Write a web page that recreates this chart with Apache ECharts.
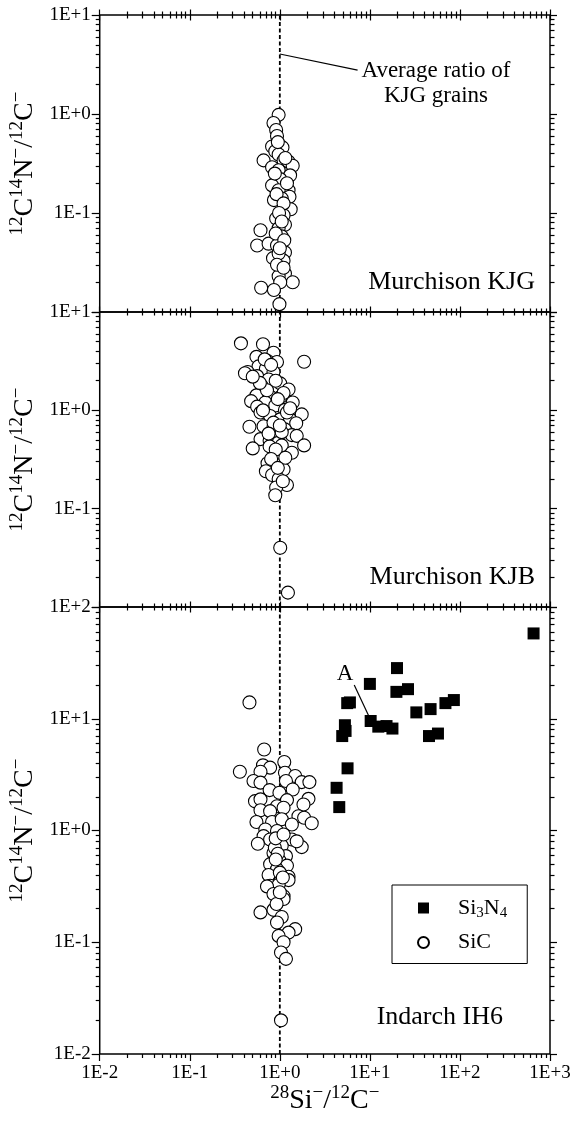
<!DOCTYPE html>
<html><head><meta charset="utf-8">
<script src="https://cdn.jsdelivr.net/npm/echarts@6/dist/echarts.min.js"></script>
<style>html,body{margin:0;padding:0;background:#fff}#c{width:582px;height:1124px}</style>
</head><body><div id="c"></div>
<script>
// ---------- data ----------
const xTicks = [0.01, 0.1, 1, 10, 100, 1000];
const xTickLabels = ['1E-2', '1E-1', '1E+0', '1E+1', '1E+2', '1E+3'];
const minorMultipliers = [2, 3, 4, 5, 6, 7, 8, 9];
const xDecades = [0.01, 0.1, 1, 10, 100];

const p12YTicks = [0.01, 0.1, 1, 10];
const p12YLabelTicks = [0.1, 1, 10];
const p12YLabels = ['1E-1', '1E+0', '1E+1'];
const p12YDecades = [0.01, 0.1, 1];
const p3YTicks = [0.01, 0.1, 1, 10, 100];
const p3YLabelTicks = [0.01, 0.1, 1, 10, 100];
const p3YLabels = ['1E-2', '1E-1', '1E+0', '1E+1', '1E+2'];
const p3YDecades = [0.01, 0.1, 1, 10];

const avgRatio = 1;

const kjgSiC = [
 [0.97,0.98],[0.85,0.81],[0.91,0.69],[0.93,0.60],[0.82,0.47],[1.07,0.46],[0.89,0.42],[0.66,0.34],
 [0.97,0.39],[1.10,0.34],[1.25,0.33],[1.39,0.30],[0.82,0.29],[0.97,0.27],[1.30,0.24],[1.01,0.22],
 [0.82,0.19],[1.25,0.17],[0.97,0.17],[1.28,0.146],[1.05,0.14],[0.86,0.135],[1.32,0.109],[1.10,0.095],
 [0.91,0.088],[1.14,0.076],[0.61,0.067],[0.97,0.070],[1.05,0.058],[0.56,0.047],[0.75,0.049],[0.93,0.047],
 [1.14,0.040],[0.84,0.035],[1.10,0.033],[0.97,0.039],[1.14,0.0245],[0.97,0.023],[1.39,0.020],[1.01,0.020],
 [0.62,0.0176],[0.86,0.0167],[0.99,0.012],
 [0.95,0.52],[1.15,0.36],[0.88,0.25],[1.2,0.20],[0.92,0.155],[1.1,0.125],[0.98,0.10],[1.05,0.082],
 [0.9,0.062],[1.12,0.053],[1.0,0.044],[0.93,0.030],[1.1,0.028]
];

const kjbSiC = [
 [0.37,4.8],[0.65,4.7],[0.85,3.85],[0.55,3.5],[0.73,3.17],[0.93,3.1],[1.86,3.12],[0.58,2.8],
 [0.70,2.65],[0.44,2.45],[0.85,2.45],[0.41,2.38],[0.56,2.23],[0.75,2.06],[1.01,1.88],[1.25,1.63],[0.63,1.77],
 [0.55,1.42],[0.78,1.38],[1.03,1.38],[0.48,1.24],[1.39,1.20],[0.69,1.20],[0.89,1.12],[0.56,1.09],
 [1.14,1.01],[1.75,0.91],[0.61,0.95],[0.78,0.875],[1.01,0.81],[1.30,0.81],[1.52,0.74],[0.46,0.68],
 [0.66,0.69],[0.85,0.67],[1.14,0.64],[1.36,0.56],[1.54,0.55],[0.61,0.51],[0.77,0.49],[0.97,0.47],
 [1.86,0.44],[0.50,0.41],[0.77,0.43],[1.05,0.44],[1.36,0.37],[0.93,0.35],[0.73,0.29],[1.01,0.277],
 [1.10,0.25],[0.70,0.24],[0.82,0.22],[0.97,0.20],[1.20,0.174],[0.91,0.164],[0.89,0.137],
 [1.01,0.040],[1.23,0.014],
 [0.9,2.0],[0.72,1.6],[1.1,1.5],[0.95,1.3],[0.65,1.0],[1.2,0.95],[0.85,0.75],[1.05,0.6],[0.75,0.58],
 [0.9,0.4],[1.15,0.33],[0.8,0.32],[0.95,0.26],[1.08,0.19],[0.6,1.9],[0.5,2.2],[0.68,3.3],[0.8,2.9],
 [1.3,1.05],[1.0,0.7]
];

const ih6SiC = [
 [0.46,14.0],[0.67,5.3],[1.12,4.1],[0.36,3.36],[0.65,3.83],[0.78,3.65],[0.61,3.36],[1.14,3.29],
 [1.48,3.07],[0.51,2.77],[0.61,2.68],[1.17,2.77],[1.75,2.71],[2.13,2.71],[0.77,2.30],[1.39,2.33],
 [0.99,2.18],[1.20,1.87],[2.08,1.92],[0.53,1.83],[0.61,1.90],[1.83,1.71],[0.93,1.65],[1.10,1.60],
 [0.61,1.52],[0.78,1.49],[1.61,1.34],[1.86,1.30],[2.26,1.16],[0.55,1.19],[0.82,1.19],[1.05,1.26],
 [1.36,1.13],[0.69,1.02],[0.93,0.99],[0.66,0.89],[0.78,0.83],[1.36,0.83],[0.57,0.76],[1.05,0.73],
 [1.75,0.71],[1.54,0.80],[0.85,0.63],[1.17,0.59],[0.99,0.54],[0.78,0.50],[1.20,0.485],[0.93,0.45],
 [0.75,0.40],[1.25,0.385],[1.01,0.35],[0.78,0.32],[0.93,0.306],[1.10,0.258],
 [1.25,0.36],[0.97,0.327],[0.72,0.316],[1.10,0.244],[0.61,0.185],[0.85,0.195],[1.05,0.168],[0.93,0.15],
 [1.48,0.131],[1.25,0.122],[0.97,0.114],[1.10,0.10],[1.03,0.081],[1.17,0.071],[1.03,0.020],
 [0.88,0.7],[0.95,0.62],[1.0,0.42],[0.9,0.55],[1.08,0.38],[0.85,0.27],[0.92,0.22],[1.0,0.28],
 [0.9,0.85],[1.1,0.92]
];

const ih6Si3N4 = [
 [657,58],[20,28.4],[10,20.5],[19.7,17.4],[26.5,18.4],[5.6,13.8],[6.0,14.0],[5.28,8.75],[5.37,7.78],
 [4.93,7.0],[5.65,3.6],[4.27,2.41],[4.57,1.62],[10.2,9.55],[12.4,8.5],[15.3,8.6],[17.8,8.17],
 [32.8,11.4],[47.2,12.2],[45.3,7.0],[57,7.37],[69,13.8],[85.6,14.7]
];

const avgLeader = [[1, 4.04], [7.3, 2.78]];
const aLeader = [[6.7, 20.0], [9.72, 10.6]];

// ---------- chart ----------
const FONT = '"Liberation Serif", "Times New Roman", serif';
function minorTicks(decades) {
  const out = [];
  decades.forEach(d => minorMultipliers.forEach(m => out.push(+(d * m).toPrecision(3))));
  return out;
}
function labelFor(ticks, labels) {
  return v => {
    const i = ticks.findIndex(t => Math.abs(Math.log10(t) - Math.log10(v)) < 1e-6);
    return i >= 0 ? labels[i] : '';
  };
}
const xMinor = minorTicks(xDecades);
const tickLine = { color: '#000', width: 1.2 };

const grids = [
  { left: 98, top: 15, width: 452, height: 297 },
  { left: 98, top: 312, width: 452, height: 295 },
  { left: 98, top: 607, width: 452, height: 447 }
].map(g => Object.assign(g, { show: true, borderColor: '#000', borderWidth: 1.5, containLabel: false }));

const panels = [
  { min: 0.01, max: 10, ticks: p12YTicks, labTicks: p12YLabelTicks, labs: p12YLabels, dec: p12YDecades },
  { min: 0.01, max: 10, ticks: p12YTicks, labTicks: p12YLabelTicks, labs: p12YLabels, dec: p12YDecades },
  { min: 0.01, max: 100, ticks: p3YTicks, labTicks: p3YLabelTicks, labs: p3YLabels, dec: p3YDecades }
];

const yName = '{s|12}{m|C}{s|14}{m|N}{s|\u2212}{m|/}{s|12}{m|C}{s|\u2212}';
const xName = '{s|28}{m|Si}{s|\u2212}{m|/}{s|12}{m|C}{s|\u2212}';
const nameRich = {
  m: { fontSize: 28, fontFamily: FONT, color: '#000' },
  s: { fontSize: 19, fontFamily: FONT, color: '#000', padding: [0, 0, 14, 0] }
};

const xAxes = [], yAxes = [], xMain = [], yMain = [];
const baseX = { type: 'log', min: 0.01, max: 1000, splitLine: { show: false }, axisLine: { show: false } };
grids.forEach((g, gi) => {
  xMain.push(xAxes.length);
  xAxes.push(Object.assign({}, baseX, { gridIndex: gi, position: 'top', offset: 5.5,
    axisTick: { show: true, inside: true, length: 11, customValues: xTicks, lineStyle: tickLine },
    axisLabel: { show: false } }));
  xAxes.push(Object.assign({}, baseX, { gridIndex: gi, position: 'top', offset: 3.5,
    axisTick: { show: true, inside: true, length: 7, customValues: xMinor, lineStyle: tickLine },
    axisLabel: { show: false } }));
  if (gi === 2) {
    xAxes.push(Object.assign({}, baseX, { gridIndex: gi, position: 'bottom',
      axisTick: { show: true, inside: false, length: 7, customValues: xTicks, lineStyle: tickLine },
      axisLabel: { show: true, customValues: xTicks, formatter: labelFor(xTicks, xTickLabels),
        margin: 10, fontFamily: FONT, fontSize: 19, color: '#000' },
      name: xName, nameLocation: 'middle', nameGap: 29,
      nameTextStyle: { rich: nameRich } }));
    xAxes.push(Object.assign({}, baseX, { gridIndex: gi, position: 'bottom',
      axisTick: { show: true, inside: false, length: 4, customValues: xMinor, lineStyle: tickLine },
      axisLabel: { show: false } }));
  }
  const p = panels[gi];
  const yMinor = minorTicks(p.dec);
  const baseY = { type: 'log', gridIndex: gi, min: p.min, max: p.max, splitLine: { show: false }, axisLine: { show: false } };
  yMain.push(yAxes.length);
  yAxes.push(Object.assign({}, baseY, { position: 'left',
    axisTick: { show: true, inside: false, length: 8, customValues: p.ticks, lineStyle: tickLine },
    axisLabel: { show: true, customValues: p.labTicks, formatter: labelFor(p.labTicks, p.labs),
      margin: 9, fontFamily: FONT, fontSize: 19, color: '#000' },
    name: yName, nameLocation: 'middle', nameRotate: 90, nameGap: 57,
    nameTextStyle: { rich: nameRich } }));
  yAxes.push(Object.assign({}, baseY, { position: 'left',
    axisTick: { show: true, inside: false, length: 4, customValues: yMinor, lineStyle: tickLine },
    axisLabel: { show: false } }));
  yAxes.push(Object.assign({}, baseY, { position: 'right',
    axisTick: { show: true, inside: false, length: 7, customValues: p.ticks, lineStyle: tickLine },
    axisLabel: { show: false } }));
  yAxes.push(Object.assign({}, baseY, { position: 'right',
    axisTick: { show: true, inside: false, length: 4.5, customValues: yMinor, lineStyle: tickLine },
    axisLabel: { show: false } }));
});

const circleStyle = { color: '#fff', borderColor: '#000', borderWidth: 1.1, opacity: 1 };
const series = [];
panels.forEach((p, gi) => {
  series.push({ type: 'line', name: 'avg' + gi, xAxisIndex: xMain[gi], yAxisIndex: yMain[gi],
    data: [[avgRatio, p.min], [avgRatio, p.max]], symbol: 'none', silent: true, z: 1,
    lineStyle: { color: '#000', width: 1.8, type: [4, 2.5] } });
});
series.push({ type: 'line', name: 'lead1', xAxisIndex: xMain[0], yAxisIndex: yMain[0], data: avgLeader,
  symbol: 'none', silent: true, z: 1, lineStyle: { color: '#000', width: 1.2 } });
series.push({ type: 'line', name: 'leadA', xAxisIndex: xMain[2], yAxisIndex: yMain[2], data: aLeader,
  symbol: 'none', silent: true, z: 1, lineStyle: { color: '#000', width: 1.2 } });
series.push({ type: 'scatter', name: 'KJG', xAxisIndex: xMain[0], yAxisIndex: yMain[0], data: kjgSiC,
  symbol: 'circle', symbolSize: 13, itemStyle: circleStyle, z: 3 });
series.push({ type: 'scatter', name: 'KJB', xAxisIndex: xMain[1], yAxisIndex: yMain[1], data: kjbSiC,
  symbol: 'circle', symbolSize: 13, itemStyle: circleStyle, z: 3 });
series.push({ type: 'scatter', name: 'SiC', xAxisIndex: xMain[2], yAxisIndex: yMain[2], data: ih6SiC,
  symbol: 'circle', symbolSize: 13, itemStyle: circleStyle, z: 3 });
series.push({ type: 'scatter', name: 'Si3N4', xAxisIndex: xMain[2], yAxisIndex: yMain[2], data: ih6Si3N4,
  symbol: 'rect', symbolSize: 12, itemStyle: { color: '#000', opacity: 1 }, z: 4 });

const chart = echarts.init(document.getElementById('c'), null, { renderer: 'canvas' });
chart.setOption({
  animation: false,
  backgroundColor: '#fff',
  grid: grids,
  xAxis: xAxes,
  yAxis: yAxes,
  legend: {
    data: ['Si3N4', 'SiC'],
    orient: 'vertical', left: 392, top: 885,
    padding: [12, 20, 10, 25], itemWidth: 11, itemHeight: 11, itemGap: 11,
    borderColor: '#000', borderWidth: 1, backgroundColor: '#fff', selectedMode: false,
    formatter: n => n === 'Si3N4' ? '{f|Si}{b|3}{m|N}{b|4}' : '{f|SiC}',
    textStyle: { color: '#000', fontFamily: FONT, fontSize: 22,
      rich: { f: { fontSize: 22, fontFamily: FONT, color: '#000', padding: [0, 0, 0, 24] },
              m: { fontSize: 22, fontFamily: FONT, color: '#000' },
              b: { fontSize: 15, fontFamily: FONT, color: '#000', padding: [10, 0, 0, 0] } } }
  },
  graphic: [
    { type: 'text', z: 100, style: { text: 'Average ratio of\nKJG grains', x: 436, y: 83, align: 'center', verticalAlign: 'middle',
      font: '23px ' + FONT, lineHeight: 25, fill: '#000' } },
    { type: 'text', z: 100, style: { text: 'Murchison KJG', x: 535, y: 282, align: 'right', verticalAlign: 'middle',
      font: '26px ' + FONT, fill: '#000' } },
    { type: 'text', z: 100, style: { text: 'Murchison KJB', x: 535, y: 577, align: 'right', verticalAlign: 'middle',
      font: '26px ' + FONT, fill: '#000' } },
    { type: 'text', z: 100, style: { text: 'Indarch IH6', x: 503, y: 1017, align: 'right', verticalAlign: 'middle',
      font: '26px ' + FONT, fill: '#000' } },
    { type: 'text', z: 100, style: { text: 'A', x: 345, y: 674, align: 'center', verticalAlign: 'middle',
      font: '23px ' + FONT, fill: '#000' } }
  ],
  series: series
});
</script>
</body></html>
